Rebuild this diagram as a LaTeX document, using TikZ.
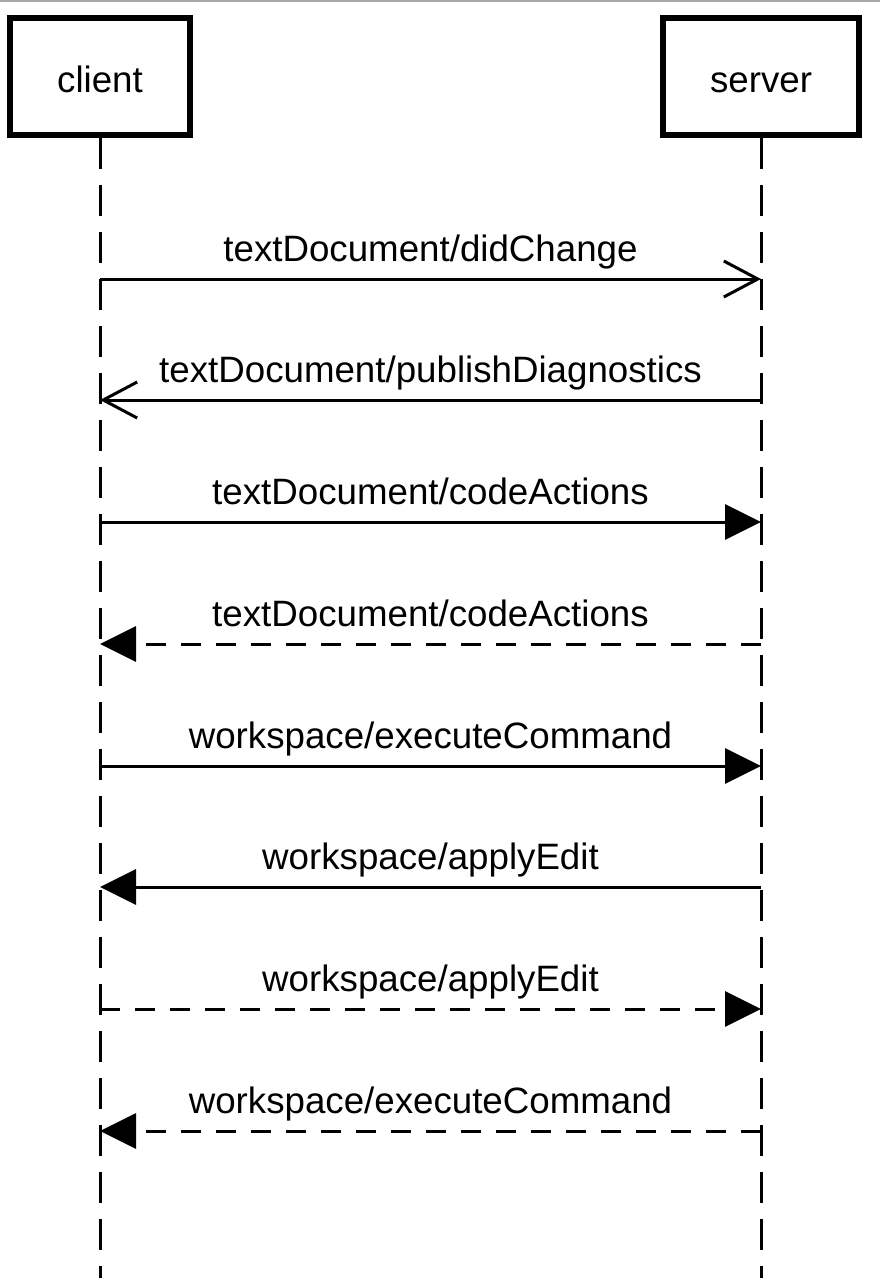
\documentclass[tikz,border=0pt]{standalone}
\usepackage{fontspec}
\setmainfont{Liberation Sans}
\usetikzlibrary{arrows.meta}
\begin{document}
\begin{tikzpicture}[x=1pt,y=-1pt,
  actor/.style={draw=black,line width=6pt,minimum width=180pt,minimum height=117pt,inner sep=0pt,text height=31pt,text depth=0pt,font=\fontsize{36.7}{44}\selectfont},
  lifeline/.style={line width=3pt,dash pattern=on 31pt off 16pt},
  msg/.style={line width=3pt},
  reply/.style={line width=3pt,dash pattern=on 20pt off 15pt},
  opentip/.style={-{Straight Barb[length=34pt,width=36pt,line width=3pt]}},
  filltip/.style={-{Triangle[length=36pt,width=35pt]}},
  lbl/.style={anchor=base,yshift=18pt,inner sep=0pt,font=\fontsize{36.7}{44}\selectfont}]
\useasboundingbox (0,0) rectangle (880,1278);
\draw[gray!70,line width=2pt] (0,1) -- (880,1);
\node[actor] (client) at (100,76.5) {client};
\node[actor,minimum width=196pt] (server) at (761,76.5) {server};
\coordinate (cend) at (100,1278);
\coordinate (send) at (761,1278);
\draw[lifeline] (client.south) -- (cend);
\draw[lifeline] (server.south) -- (send);
\foreach \i/\y in {1/279,2/400,3/522,4/644,5/766,6/887,7/1009,8/1131}{
  \coordinate (c\i) at (100,\y);
  \coordinate (s\i) at (761,\y);
}
\draw[msg,opentip] (c1) -- node[lbl] {textDocument/didChange} (s1);
\draw[msg,opentip] (s2) -- node[lbl] {textDocument/publishDiagnostics} (c2);
\draw[msg,filltip] (c3) -- node[lbl] {textDocument/codeActions} (s3);
\draw[reply,filltip] (s4) -- node[lbl] {textDocument/codeActions} (c4);
\draw[msg,filltip] (c5) -- node[lbl] {workspace/executeCommand} (s5);
\draw[msg,filltip] (s6) -- node[lbl] {workspace/applyEdit} (c6);
\draw[reply,filltip] (c7) -- node[lbl] {workspace/applyEdit} (s7);
\draw[reply,filltip] (s8) -- node[lbl] {workspace/executeCommand} (c8);
\end{tikzpicture}
\end{document}
